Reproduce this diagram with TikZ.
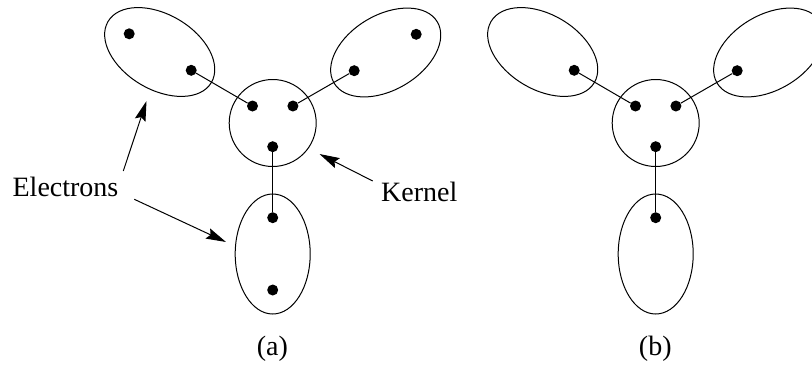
\documentclass[tikz,border=0pt]{standalone}
\usepackage{fontspec}
\setmainfont{Liberation Serif}
\usetikzlibrary{shapes.geometric,arrows.meta}
\begin{document}
\begin{tikzpicture}[x=1pt,y=-1pt,
  dot/.style={circle,fill=black,inner sep=0pt,minimum size=11pt},
  kern/.style={circle,draw,line width=1pt,inner sep=0pt,minimum size=87pt},
  orb/.style={ellipse,draw,line width=1pt,inner sep=0pt,minimum width=120pt,minimum height=75pt},
  bond/.style={line width=1pt},
  pointer/.style={line width=1pt,-{Stealth[length=20pt,width=11pt,inset=3pt]}},
  lbl/.style={font=\fontsize{28}{32}\selectfont,inner sep=0pt,anchor=base}]
\clip (0,0) rectangle (812,367);
% ---------- (a) ----------
\node[kern] (Ka) at (272.7,123) {};
\node[orb,rotate=-30.6] (ULa) at (159.7,52) {};
\node[orb,rotate=30.6] (URa) at (385.7,52.5) {};
\node[orb,rotate=90] (La) at (272.7,254) {};
\node[dot] (ka1) at (252.5,106) {};
\node[dot] (ka2) at (292.9,106) {};
\node[dot] (ka3) at (272.7,146.7) {};
\node[dot] (ea1) at (129.2,33.8) {};
\node[dot] (ea2) at (191.2,70.3) {};
\node[dot] (ea3) at (416.2,34.3) {};
\node[dot] (ea4) at (354.2,70.7) {};
\node[dot] (ea5) at (272.7,217.7) {};
\node[dot] (ea6) at (272.7,290) {};
\draw[bond] (ea2) -- (ka1);
\draw[bond] (ea4) -- (ka2);
\draw[bond] (ka3) -- (ea5);
\node[lbl] (elec) at (65.5,196.7) {Electrons};
\node[lbl] (kern) at (419.2,201.7) {Kernel};
\node[lbl] (capa) at (272.3,355.5) {(a)};
\coordinate (t1) at (123.3,171);
\coordinate (h1) at (146.5,101);
\coordinate (t2) at (134.3,199.3);
\coordinate (h2) at (226,242);
\coordinate (t3) at (372.7,181);
\coordinate (h3) at (319.5,154);
\draw[pointer] (t1) -- (h1);
\draw[pointer] (t2) -- (h2);
\draw[pointer] (t3) -- (h3);
% ---------- (b) ----------
\begin{scope}[xshift=383pt]
\node[kern] (Kb) at (272.7,123) {};
\node[orb,rotate=-30.6] (ULb) at (159.7,52) {};
\node[orb,rotate=30.6] (URb) at (385.7,52.5) {};
\node[orb,rotate=90] (Lb) at (272.7,254) {};
\node[dot] (kb1) at (252.5,106) {};
\node[dot] (kb2) at (292.9,106) {};
\node[dot] (kb3) at (272.7,146.7) {};
\node[dot] (eb2) at (191.2,70.3) {};
\node[dot] (eb4) at (354.2,70.7) {};
\node[dot] (eb5) at (272.7,217.7) {};
\draw[bond] (eb2) -- (kb1);
\draw[bond] (eb4) -- (kb2);
\draw[bond] (kb3) -- (eb5);
\node[lbl] (capb) at (272.3,355.5) {(b)};
\end{scope}
\end{tikzpicture}
\end{document}
